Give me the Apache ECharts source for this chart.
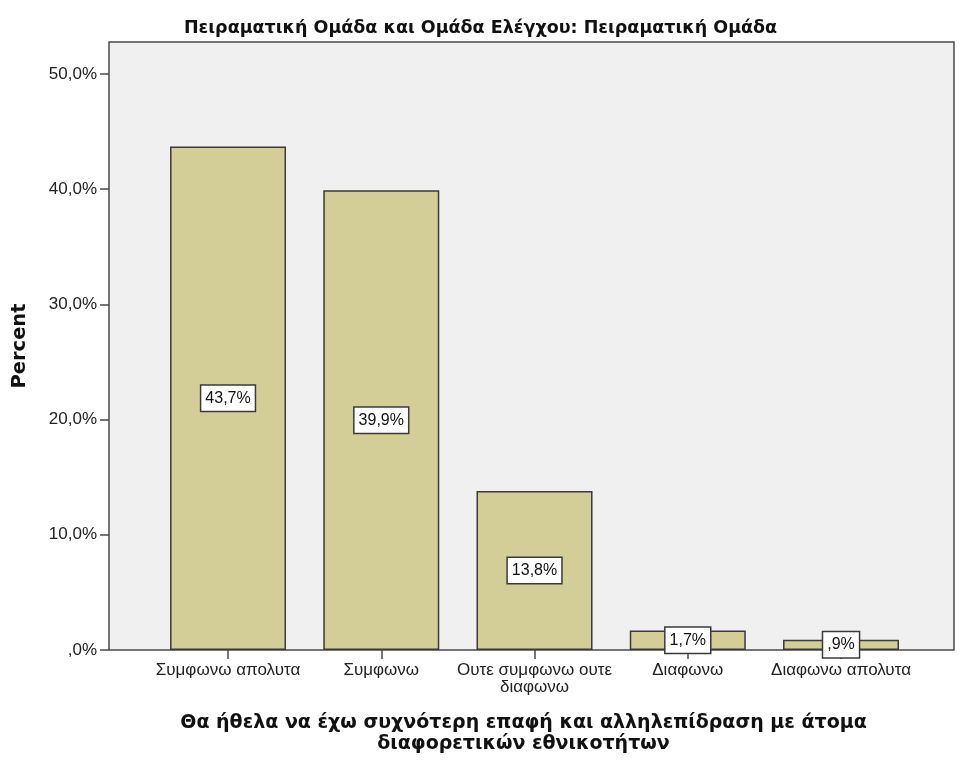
<!DOCTYPE html>
<html>
<head>
<meta charset="utf-8">
<script src="https://cdn.jsdelivr.net/npm/echarts@6/dist/echarts.min.js"></script>
<style>
   html, body { margin: 0 ; padding: 0 ; background: #ffffff ; }
   #chart { width: 961px ; height: 761px ; }
</style>
</head>
<body>
<div id="chart"></div>
<script>
var chartTitle = 'Πειραματική Ομάδα και Ομάδα Ελέγχου: Πειραματική Ομάδα' ;
var xAxisTitle = 'Θα ήθελα να έχω συχνότερη επαφή και αλληλεπίδραση με άτομα\nδιαφορετικών εθνικοτήτων' ;
var yAxisTitle = 'Percent' ;
var categories = [ 'Συμφωνω απολυτα', 'Συμφωνω', 'Ουτε συμφωνω ουτε\nδιαφωνω', 'Διαφωνω', 'Διαφωνω απολυτα' ] ;
var percents = [ 43.7, 39.9, 13.8, 1.7, 0.9 ] ;
var yTicks = [ 0, 10, 50 ] ; // min, interval, max

(function(){
   var font = '"Liberation Sans", Arial, sans-serif' ;
   var boldFont = '"DejaVu Sans", Verdana, sans-serif' ;
   //SPSS style: comma decimal, no leading zero
   function fmtPct( v )
   {
      var s = v.toFixed( 1 ).replace( '.', ',' ) ;
      if( s.indexOf( '0,' ) == 0 ) s = s.substring( 1 ) ;
      return s + '%' ;
   }
   var chart = echarts.init( document.getElementById( 'chart' ), null, { renderer: 'canvas' } ) ;
   var option = {
      animation: false,
      title: {
         text: chartTitle,
         left: 'center',
         top: 14,
         textStyle: { fontFamily: boldFont, fontSize: 17.5, fontWeight: 'bold', color: '#111' }
      },
      grid: [
         //frame
         { left: 109, top: 42, width: 845, height: 608, show: true, backgroundColor: '#f0f0f0', borderColor: '#4a4a4a', borderWidth: 1.5, containLabel: false },
         //data
         { left: 151.4, top: 74, width: 766.25, height: 576, containLabel: false }
      ],
      xAxis: [
         { gridIndex: 0, type: 'value', min: 0, max: 1, show: true,
           axisLine: { show: false }, axisTick: { show: false }, axisLabel: { show: false }, splitLine: { show: false },
           name: xAxisTitle, nameLocation: 'middle', nameGap: 63,
           nameTextStyle: { fontFamily: boldFont, fontSize: 19, fontWeight: 'bold', color: '#111', lineHeight: 21, padding: [ 0, 16, 0, 0 ] } },
         { gridIndex: 1, type: 'category', data: categories, boundaryGap: true,
           axisLine: { show: false },
           axisTick: { show: true, alignWithLabel: true, length: 9, lineStyle: { color: '#4a4a4a', width: 1.5 } },
           axisLabel: { margin: 12, fontFamily: font, fontSize: 17, color: '#222', lineHeight: 17, interval: 0 } }
      ],
      yAxis: [
         { gridIndex: 0, type: 'value', min: 0, max: 1, show: true,
           axisLine: { show: false }, axisTick: { show: false }, axisLabel: { show: false }, splitLine: { show: false },
           name: yAxisTitle, nameLocation: 'middle', nameRotate: 90, nameGap: 79,
           nameTextStyle: { fontFamily: boldFont, fontSize: 19.5, fontWeight: 'bold', color: '#111' } },
         { gridIndex: 1, type: 'value', min: yTicks[0], max: yTicks[2], interval: yTicks[1], offset: 42.4,
           axisLine: { show: false },
           axisTick: { show: true, length: 9, lineStyle: { color: '#4a4a4a', width: 1.5 } },
           splitLine: { show: false },
           axisLabel: { margin: 12, fontFamily: font, fontSize: 17, color: '#222', formatter: function( v ){ return fmtPct( v ) ; } } }
      ],
      series: [
         {
            type: 'bar',
            xAxisIndex: 1,
            yAxisIndex: 1,
            data: percents,
            barWidth: 116,
            itemStyle: { color: '#d3ce98', borderColor: '#3a3a3a', borderWidth: 1.5 },
            label: {
               show: true,
               position: 'inside',
               formatter: function( p ){ return fmtPct( p.value ) ; },
               fontFamily: font,
               fontSize: 16,
               color: '#111',
               backgroundColor: '#ffffff',
               borderColor: '#3a3a3a',
               borderWidth: 1.5,
               padding: [ 5, 4, 4, 4 ]
            }
         }
      ]
   } ;
   chart.setOption( option ) ;
}());
</script>
</body>
</html>
